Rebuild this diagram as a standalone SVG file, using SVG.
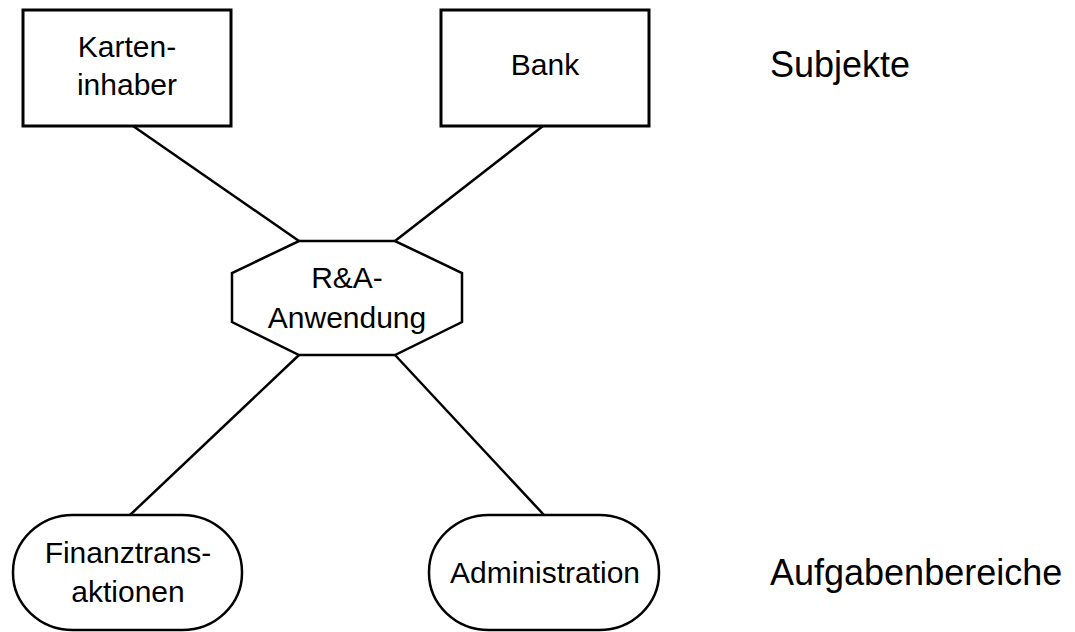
<svg xmlns="http://www.w3.org/2000/svg" width="1075" height="632" viewBox="0 0 1075 632">
  <style>
    .shape { fill: #ffffff; stroke: #000000; }
    .box { stroke-width: 3; }
    .oct { stroke-width: 2.5; }
    .pill { stroke-width: 2.5; }
    .label { font-family: "Liberation Sans", Arial, sans-serif; font-size: 30px; fill: #000000; text-anchor: middle; }
    .side { font-family: "Liberation Sans", Arial, sans-serif; font-size: 36px; fill: #000000; }
    .link { stroke: #000000; stroke-width: 2.5; fill: none; }
  </style>
  <rect width="1075" height="632" fill="#ffffff"/>

  <!-- connectors -->
  <g id="connectors">
    <line class="link" x1="133" y1="126" x2="299" y2="241"/>
    <line class="link" x1="543" y1="126" x2="395" y2="241"/>
    <line class="link" x1="299" y1="355" x2="130" y2="515"/>
    <line class="link" x1="395" y1="355" x2="544" y2="515"/>
  </g>

  <g id="karteninhaber">
    <rect class="shape box" x="23" y="10" width="208" height="116"/>
    <text class="label" x="127" y="57">Karten-</text>
    <text class="label" x="127" y="95">inhaber</text>
  </g>

  <g id="bank">
    <rect class="shape box" x="441" y="10" width="208" height="116"/>
    <text class="label" x="545" y="75">Bank</text>
  </g>

  <g id="anwendung">
    <polygon class="shape oct" points="299,241 395,241 462,273 462,322 395,355 299,355 232,322 232,273"/>
    <text class="label" x="347" y="288">R&amp;A-</text>
    <text class="label" x="347" y="328">Anwendung</text>
  </g>

  <g id="finanztransaktionen">
    <rect class="shape pill" x="13" y="515" width="229" height="115" rx="60" ry="57"/>
    <text class="label" x="128" y="563">Finanztrans-</text>
    <text class="label" x="128" y="602">aktionen</text>
  </g>

  <g id="administration">
    <rect class="shape pill" x="429" y="515" width="230" height="115" rx="60" ry="57"/>
    <text class="label" x="545" y="583">Administration</text>
  </g>

  <g id="legend">
    <text class="side" x="770" y="77">Subjekte</text>
    <text class="side" x="770" y="585">Aufgabenbereiche</text>
  </g>
</svg>
